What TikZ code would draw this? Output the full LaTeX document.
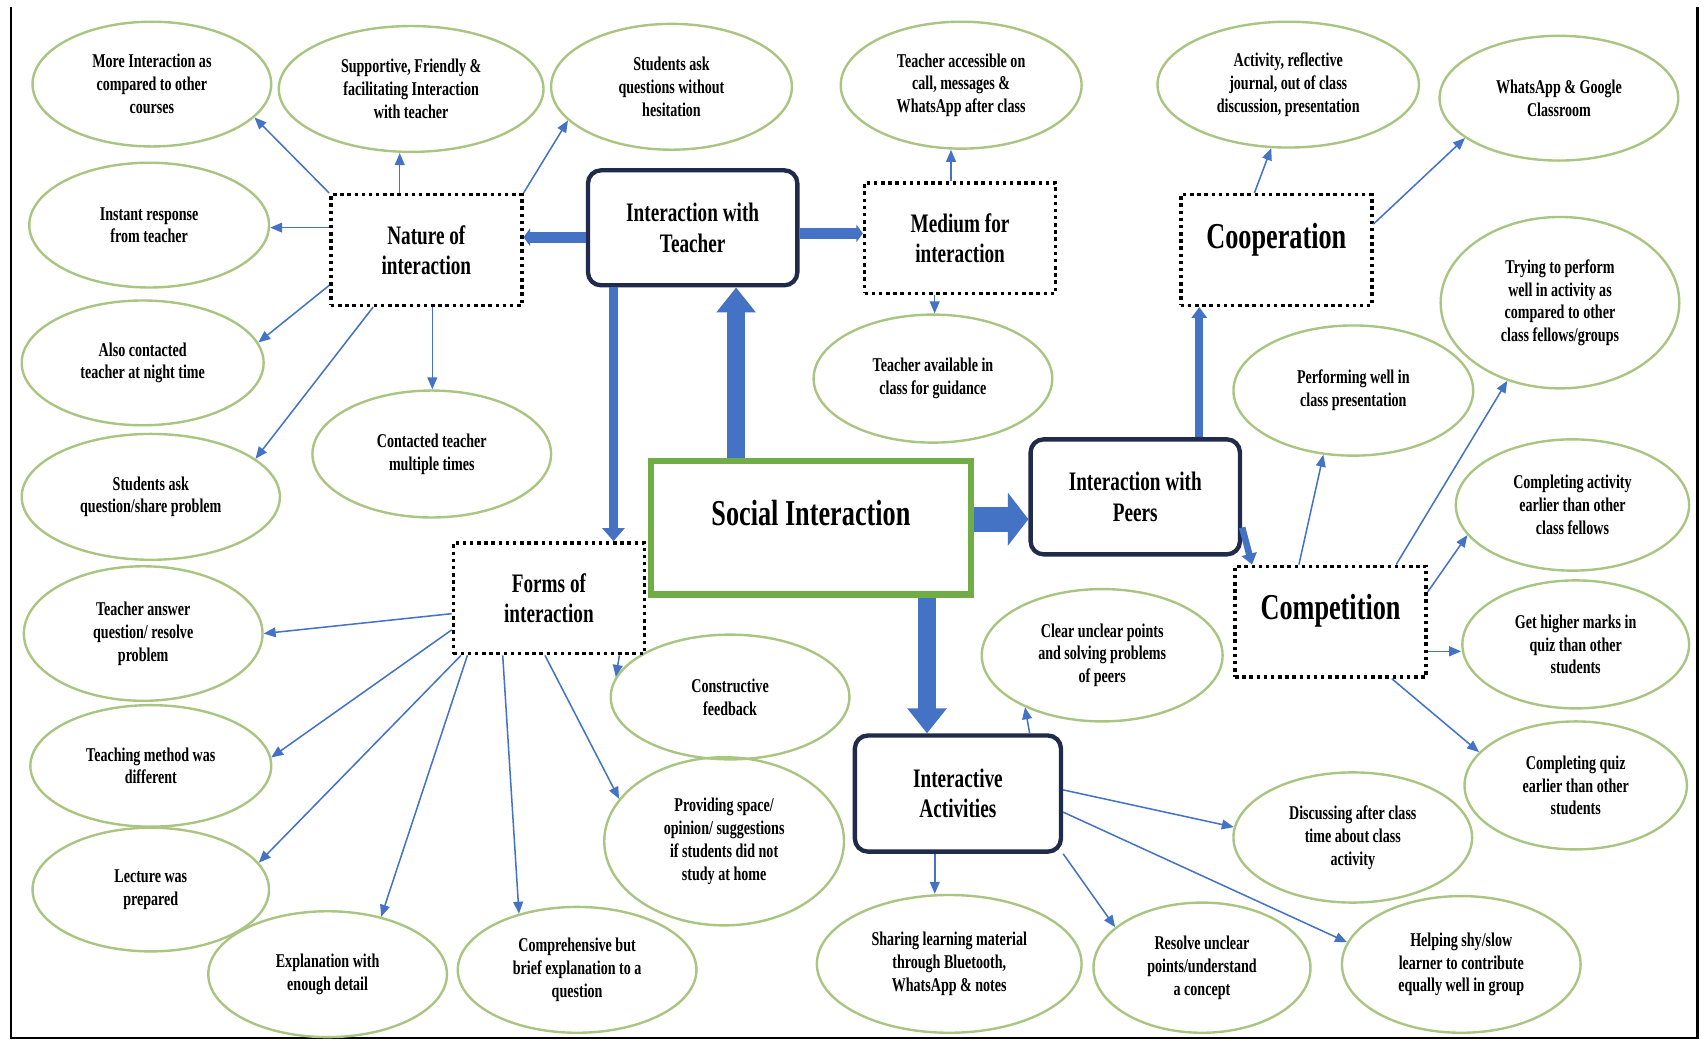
\documentclass[tikz,border=0pt]{standalone}
\usepackage{fontspec}
\newfontfamily\cond{Liberation Serif}[FakeStretch=0.72]
\usetikzlibrary{arrows.meta,shapes.geometric}

\definecolor{leaf}{RGB}{170,196,130}
\definecolor{arrowblue}{RGB}{68,114,196}
\definecolor{navy}{RGB}{32,42,74}
\definecolor{grass}{RGB}{112,173,71}

\tikzset{
  idea/.style={ellipse, draw=leaf, line width=1.1pt, inner sep=0pt, align=center,
    font=\cond\bfseries\fontsize{9}{10.5}\selectfont},
  dotbox/.style={rectangle, draw=black, line width=1.6pt, dash pattern=on 1.6pt off 1.7pt,
    inner sep=0pt, align=center, minimum width=88pt, minimum height=51pt,
    font=\cond\bfseries\fontsize{12.3}{14}\selectfont},
  bigdotbox/.style={dotbox, font=\cond\bfseries\fontsize{16.8}{19}\selectfont, text depth=13.5pt},
  hubbox/.style={rectangle, rounded corners=6pt, draw=navy, line width=2pt, fill=white,
    inner sep=0pt, align=center, minimum width=96.5pt, minimum height=53pt,
    font=\cond\bfseries\fontsize{12.3}{14}\selectfont},
  corebox/.style={rectangle, draw=grass, line width=2.8pt, fill=white, inner sep=0pt,
    minimum width=147.5pt, minimum height=61.5pt, text depth=13.5pt,
    font=\cond\bfseries\fontsize{16.8}{19}\selectfont},
  link/.style={draw=arrowblue, line width=0.7pt, -{Triangle[length=5.5pt,width=4.5pt]}},
  bar/.style={draw=arrowblue, line width=5pt, -{Triangle[length=3pt,width=8pt]}},
  stem/.style={draw=arrowblue, line width=4.5pt, -{Triangle[length=6pt,width=10pt]}},
  block/.style={draw=arrowblue, line width=8.5pt, -{Triangle[length=11.5pt,width=17.5pt]}},
}

\begin{document}
\begin{tikzpicture}[x=0.5pt,y=-0.5pt]
\useasboundingbox (0,0) rectangle (1568,959);
\fill[white] (0,0) rectangle (1568,959);

% frame
\draw[black, line width=1.2pt] (10,6) -- (10,957) -- (1565,957) -- (1565,6);

% outcome ellipses
\node[idea, minimum width=110pt, minimum height=57.5pt] (e1) at (140,77.5) {More Interaction as\\compared to other\\courses};
\node[idea, minimum width=122pt, minimum height=58pt] (e2) at (379,82) {Supportive, Friendly \&\\facilitating Interaction\\with teacher};
\node[idea, minimum width=111pt, minimum height=58pt] (e3) at (619,80) {Students ask\\questions without\\hesitation};
\node[idea, minimum width=111pt, minimum height=58.5pt] (e4) at (886,78.5) {Teacher accessible on\\call, messages \&\\WhatsApp after class};
\node[idea, minimum width=120.5pt, minimum height=58pt] (e5) at (1187.5,78) {Activity, reflective\\journal, out of class\\discussion, presentation};
\node[idea, minimum width=110pt, minimum height=57.5pt] (e6) at (1437,90.5) {WhatsApp \& Google\\Classroom};
\node[idea, minimum width=110.5pt, minimum height=57.5pt] (e7) at (137.5,207.5) {Instant response\\from teacher};
\node[idea, minimum width=111.5pt, minimum height=57.5pt] (e8) at (131.5,334.5) {Also contacted\\teacher at night time};
\node[idea, minimum width=119pt, minimum height=58pt] (e9) at (139,458) {Students ask\\question/share problem};
\node[idea, minimum width=110pt, minimum height=58.5pt] (e10) at (398,418.5) {Contacted teacher\\multiple times};
\node[idea, minimum width=110pt, minimum height=59pt] (e11) at (860,349) {Teacher available in\\class for guidance};
\node[idea, minimum width=110pt, minimum height=79pt] (e12) at (1438,279) {Trying to perform\\well in activity as\\compared to other\\class fellows/groups};
\node[idea, minimum width=110.5pt, minimum height=60pt] (e13) at (1247.5,360) {Performing well in\\class presentation};
\node[idea, minimum width=107.5pt, minimum height=60.5pt] (e14) at (1449.5,465.5) {Completing activity\\earlier than other\\class fellows};
\node[idea, minimum width=104.5pt, minimum height=59pt] (e15) at (1452.5,594) {Get higher marks in\\quiz than other\\students};
\node[idea, minimum width=102.5pt, minimum height=59pt] (e16) at (1452.5,724) {Completing quiz\\earlier than other\\students};
\node[idea, minimum width=111pt, minimum height=61pt] (e17) at (1016,604) {Clear unclear points\\and solving problems\\of peers};
\node[idea, minimum width=110pt, minimum height=57.5pt] (e18) at (673,642.5) {Constructive\\feedback};
\node[idea, minimum width=110pt, minimum height=62pt] (e19) at (132,584) {Teacher answer\\question/ resolve\\problem};
\node[idea, minimum width=111pt, minimum height=56pt] (e20) at (139,706) {Teaching method was\\different};
\node[idea, minimum width=109pt, minimum height=57pt] (e21) at (139,820) {Lecture was\\prepared};
\node[idea, minimum width=110pt, minimum height=58pt] (e22) at (302,898) {Explanation with\\enough detail};
\node[idea, minimum width=110pt, minimum height=58pt] (e23) at (532,894) {Comprehensive but\\brief explanation to a\\question};
\node[idea, minimum width=110.5pt, minimum height=77.5pt] (e24) at (667.5,775.5) {Providing space/\\opinion/ suggestions\\if students did not\\study at home};
\node[idea, minimum width=110pt, minimum height=60pt] (e25) at (1247,772) {Discussing after class\\time about class\\activity};
\node[idea, minimum width=122pt, minimum height=63.5pt] (e26) at (875,888.5) {Sharing learning material\\through Bluetooth,\\WhatsApp \& notes};
\node[idea, minimum width=100pt, minimum height=60pt] (e27) at (1108,892) {Resolve unclear\\points/understand\\a concept};
\node[idea, minimum width=110pt, minimum height=63pt] (e28) at (1347,889) {Helping shy/slow\\learner to contribute\\equally well in group};

% category boxes
\node[dotbox] (nat) at (393,230.5) {Nature of\\interaction};
\node[dotbox] (med) at (885,219.5) {Medium for\\interaction};
\node[dotbox] (forms) at (506,551.5) {Forms of\\interaction};
\node[bigdotbox] (coop) at (1176.5,230.5) {Cooperation};
\node[bigdotbox] (comp) at (1226.5,573) {Competition};

% main boxes
\node[hubbox] (tch) at (638.5,210) {Interaction with\\Teacher};
\node[hubbox] (prs) at (1046.5,458) {Interaction with\\Peers};
\node[hubbox, minimum width=95pt, minimum height=53.5pt] (ia) at (883,731.5) {Interactive\\Activities};
\node[corebox] (soc) at (747.5,486.5) {Social Interaction};

% heavy connectors
\draw[block] (soc.137.7) -- (soc.137.7 |- tch.south);
\draw[block, line width=11.5pt, -{Triangle[length=9.5pt,width=24pt]}] (soc.3.3) -- (soc.3.3 -| prs.west);
\draw[block] (soc.-31.5) -- (soc.-31.5 |- ia.north);
\draw[bar] (tch.-175.3) -- (tch.-175.3 -| nat.east);
\draw[bar] (tch.-3.6) -- (tch.-3.6 -| med.west);
\draw[stem] (tch.-143.8) -- (tch.-143.8 |- forms.north);
\draw[stem, line width=3.8pt, -{Triangle[length=5pt,width=7pt]}] (prs.43.7) -- (prs.43.7 |- coop.south);
\draw[stem, line width=3pt, -{Triangle[length=5pt,width=7pt]}] (prs.-16.3) -- (comp.144.5);

% nature of interaction
\draw[link] (nat.north west) -- (e1.-18);
\draw[link] (nat.115) -- (nat.115 |- e2.south);
\draw[link] (nat.north east) -- (e3.-162);
\draw[link] (nat.167.5) -- (nat.167.5 -| e7.east);
\draw[link] (nat.-160.3) -- (e8.10);
\draw[link] (nat.-133.5) -- (e9.20);
\draw[link] (nat.-84.3) -- (nat.-84.3 |- e10.north);

% medium for interaction
\draw[link] (med.99) -- (med.99 |- e4.south);
\draw[link] (med.-114) -- (med.-114 |- e11.north);

% cooperation
\draw[link] (coop.111) -- (e5.-105);
\draw[link] (coop.15.5) -- (e6.-157);

% competition
\draw[link] (comp.119.2) -- (e13.-115.7);
\draw[link] (comp.41.6) -- (e12.-124.8);
\draw[link] (comp.17.6) -- (e14.-164.4);
\draw[link] (comp.-17.6) -- (comp.-17.6 -| e15.west);
\draw[link] (comp.-43.6) -- (e16.161.7);

% forms of interaction
\draw[link] (forms.-171.9) -- (e19.east);
\draw[link] (forms.-162.6) -- (e20.4);
\draw[link] (forms.-147.9) -- (e21.14);
\draw[link] (forms.-145.9) -- (e22.47);
\draw[link] (forms.-129.9) -- (e23.136);
\draw[link] (forms.-94.4) -- (e24.158);
\draw[link] (forms.-39.7) -- (e18.170);

% interactive activities
\draw[link] (ia.40.8) -- (e17.-146);
\draw[link] (ia.-111.4) -- (ia.-111.4 |- e26.north);
\draw[link] (ia.south east) -- (e27.155);
\draw[link] (ia.2) -- (e25.175);
\draw[link] (ia.-10.7) -- (e28.169);
\end{tikzpicture}
\end{document}
